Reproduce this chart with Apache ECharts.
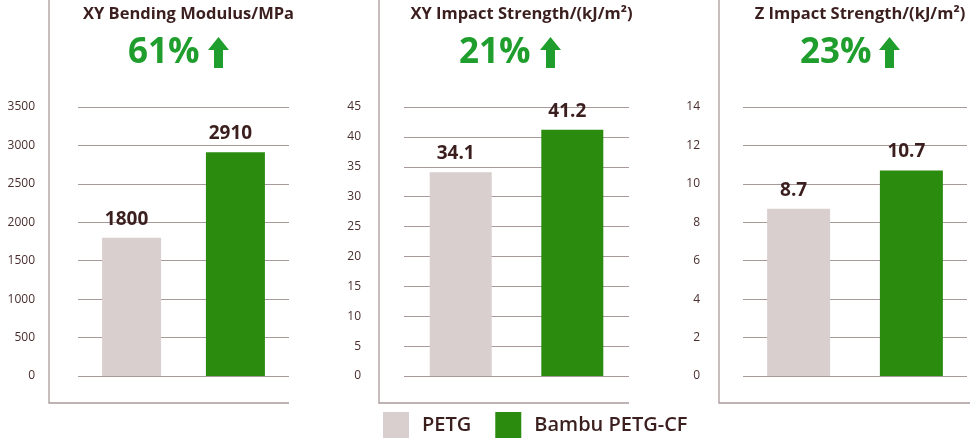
<!DOCTYPE html>
<html>
<head>
<meta charset="utf-8">
<script src="https://cdn.jsdelivr.net/npm/echarts@6/dist/echarts.min.js"></script>
<style>
  html, body { margin: 0; padding: 0; background: #fff; }
  #chart { width: 970px; height: 440px; }
</style>
</head>
<body>
<div id="chart"></div>
<script>
const materials = ['PETG', 'Bambu PETG-CF'];
const panelTitles = ['XY Bending Modulus/MPa', 'XY Impact Strength/(kJ/m²)', 'Z Impact Strength/(kJ/m²)'];
const gains = ['61%', '21%', '23%'];
const petgValues = [1800, 34.1, 8.7];
const cfValues = [2910, 41.2, 10.7];
const axisMax = [3500, 45, 14];
const axisStep = [500, 5, 2];

const TEXT = '#3b1e1e';
const LINE = '#a99a9a';
const GREEN = '#2b8b0f';
const GRAY = '#d9cfcf';
const BRIGHT = '#1f9e2d';

// panel layout: grid left/right, frame left/right, bar size, gap
const panels = [
    {left: 78, right: 289, frame: 49, frameEnd: 289, bar: 59, gap: '76%', pctX: 131, arrowX: 208},
    {left: 404, right: 629, frame: 379, frameEnd: 629, bar: 62, gap: '80%', pctX: 462, arrowX: 540},
    {left: 743, right: 967, frame: 719, frameEnd: 970, bar: 63, gap: '79%', pctX: 803, arrowX: 879}
];

const grids = [], xAxes = [], yAxes = [], series = [], titles = [], graphics = [];

panels.forEach((p, i) => {
    grids.push({left: p.left, width: p.right - p.left, top: 107, height: 269});
    xAxes.push({
        type: 'category', gridIndex: i, data: [''],
        axisLine: {show: false}, axisTick: {show: false}, axisLabel: {show: false}
    });
    yAxes.push({
        type: 'value', gridIndex: i, min: 0, max: axisMax[i], interval: axisStep[i],
        axisLine: {show: false}, axisTick: {show: false},
        axisLabel: {color: '#4a2e2e', fontSize: 12, margin: 43, fontFamily: 'Open Sans',
                    formatter: v => String(v)},
        splitLine: {lineStyle: {color: LINE, width: 1.2}}
    });
    const lbl = {
        show: true, position: 'top', distance: 9, offset: [-5, 0],
        color: TEXT, fontSize: 19, fontWeight: 'bold', fontFamily: 'Open Sans'
    };
    series.push({
        name: materials[0], type: 'bar', xAxisIndex: i, yAxisIndex: i,
        data: [petgValues[i]], barWidth: p.bar, barGap: p.gap,
        itemStyle: {color: GRAY}, label: lbl
    });
    series.push({
        name: materials[1], type: 'bar', xAxisIndex: i, yAxisIndex: i,
        data: [cfValues[i]], barWidth: p.bar, barGap: p.gap,
        itemStyle: {color: GREEN}, label: lbl
    });
    titles.push({
        text: panelTitles[i], left: (p.left + p.right) / 2, top: 1, textAlign: 'center',
        textStyle: {color: TEXT, fontSize: 16.5, fontWeight: 'bold', fontFamily: 'Open Sans'}
    });
    titles.push({
        text: gains[i], left: p.pctX - 8, top: 31,
        textStyle: {color: BRIGHT, fontSize: 35, fontWeight: 'bold', fontFamily: 'Open Sans'}
    });
    // frame lines
    graphics.push({
        type: 'polyline', silent: true,
        shape: {points: [[p.frame, 0], [p.frame, 403], [p.frameEnd, 403]]},
        style: {stroke: LINE, lineWidth: 1.3, fill: null}
    });
    // up arrow
    const a = p.arrowX;
    graphics.push({
        type: 'polygon', silent: true,
        shape: {points: [[a + 10.5, 37], [a + 21, 50], [a + 15, 50], [a + 15, 68],
                         [a + 6, 68], [a + 6, 50], [a, 50]]},
        style: {fill: BRIGHT}
    });
});

const chart = echarts.init(document.getElementById('chart'));
chart.setOption({
    animation: false,
    title: titles,
    legend: {
        data: materials, left: 383, top: 412, padding: 0,
        icon: 'rect', itemWidth: 26, itemHeight: 26, itemGap: 24,
        textStyle: {color: TEXT, fontSize: 20, fontWeight: 600, fontFamily: 'Open Sans', padding: [0, 0, 0, 8]}
    },
    grid: grids,
    xAxis: xAxes,
    yAxis: yAxes,
    series: series,
    graphic: graphics
});
</script>
</body>
</html>
